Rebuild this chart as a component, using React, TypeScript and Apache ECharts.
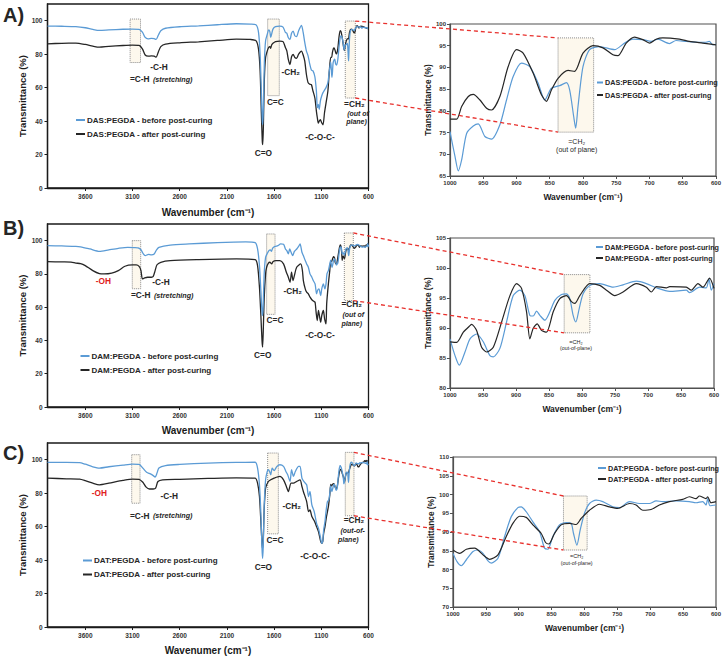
import React, { useEffect, useRef } from "react";
import * as echarts from "echarts";

// ---------------- DATA ----------------
// Wavenumber (cm-1) / transmittance (%) pairs, full range part (4000 -> ~1010)
const dasBeforeHigh: [number, number][] = [
  [4000, 96.8], [3850, 96.7], [3700, 96.5], [3600, 95.8], [3520, 94.8], [3450, 94.2], [3350, 94.5], [3200, 94.9],
  [3100, 95.0], [3030, 94.8], [2995, 93.2], [2965, 90.0], [2935, 89.2], [2900, 89.5], [2870, 89.3], [2850, 88.8],
  [2825, 91.5], [2800, 94.0], [2750, 95.5], [2600, 96.4], [2400, 96.9], [2200, 97.6], [2000, 98.2], [1850, 98.0],
  [1790, 97.5], [1765, 93], [1748, 80], [1735, 58], [1725, 40], [1720, 38], [1713, 50], [1703, 75], [1690, 88],
  [1672, 92], [1658, 94.5], [1645, 93.5], [1636, 90.0], [1626, 92], [1612, 95], [1585, 96.5], [1540, 96.8],
  [1505, 96.2], [1480, 93], [1465, 92.5], [1450, 90], [1432, 88.8], [1415, 92.5], [1398, 93.8], [1380, 91],
  [1362, 90.5], [1340, 94], [1310, 97.2], [1292, 93], [1275, 87], [1258, 82], [1240, 79], [1222, 74], [1205, 70.5],
  [1188, 70], [1168, 66.5], [1152, 58], [1142, 48], [1132, 50], [1122, 47], [1110, 52], [1096, 55], [1082, 57],
  [1066, 58.5], [1050, 60], [1030, 63], [1015, 70]
];
const dasAfterHigh: [number, number][] = [
  [4000, 86.2], [3850, 86.5], [3700, 86.6], [3600, 85.8], [3520, 84.8], [3450, 84.2], [3350, 84.7], [3200, 85.2],
  [3100, 85.4], [3030, 85.2], [2995, 83.2], [2965, 79.5], [2935, 78.8], [2900, 79.0], [2870, 78.8], [2850, 78.2],
  [2825, 81.5], [2800, 84.5], [2750, 86.0], [2600, 86.8], [2400, 87.4], [2200, 88.2], [2000, 89.0], [1850, 88.8],
  [1790, 88.0], [1765, 83], [1748, 70], [1735, 45], [1725, 28], [1720, 26], [1713, 38], [1703, 65], [1690, 78],
  [1672, 82], [1658, 84], [1645, 84.5], [1636, 83.5], [1626, 85.5], [1612, 86.5], [1585, 87.5], [1540, 87.8],
  [1505, 87.5], [1480, 84], [1465, 82], [1450, 77], [1432, 73.8], [1415, 78.5], [1398, 79.8], [1380, 78],
  [1362, 77.5], [1340, 80], [1310, 81.8], [1292, 79.5], [1275, 75.8], [1258, 68], [1240, 63], [1222, 62],
  [1205, 61.8], [1188, 58], [1168, 53.8], [1152, 46], [1142, 42], [1132, 38.8], [1122, 40], [1110, 40.8],
  [1096, 39], [1082, 37.8], [1066, 45], [1050, 50.8], [1030, 58], [1015, 70]
];
const dasBeforeZoom: [number, number][] = [
  [1000, 75.2], [992.5, 69.5], [987.5, 66.2], [982.5, 68.7], [975, 74.8], [965, 76.5], [957.5, 77], [947.5, 74.1],
  [937.5, 73.5], [925, 76.8], [915, 82.5], [905, 87.9], [892.5, 91], [880, 90.2], [867.5, 86.4], [857.5, 82.5],
  [847.5, 85.2], [835, 85.8], [825, 86.5], [820, 84.8], [814, 78.7], [811, 76], [807.5, 81], [800, 90.2],
  [790, 94.1], [775, 94.8], [752.5, 94.1], [737.5, 95.6], [725, 96.5], [710, 96.4], [697.5, 96], [687.5, 96.5],
  [670, 95.5], [660, 96.2], [645, 96], [627.5, 95.8], [615, 95.8], [610, 96], [605, 95.2], [600, 95.4]
];
const dasAfterZoom: [number, number][] = [
  [1000, 78.1], [990, 78.1], [982.5, 81], [972.5, 83.3], [965, 83.8], [955, 82.5], [945, 80.6], [937.5, 80.2],
  [925, 83.3], [912.5, 90.2], [900, 94.1], [890, 93.3], [875, 88.7], [862.5, 83.7], [855, 82.2], [847.5, 84.8],
  [837.5, 87.5], [822.5, 89.3], [812.5, 89.1], [800, 93.3], [785, 95], [770, 94.5], [755, 92.9], [747.5, 92.7],
  [735, 95.6], [722.5, 97], [710, 96.4], [700, 95.6], [690, 96.5], [680, 96.8], [655, 96.5], [640, 96],
  [620, 95.6], [600, 95.2]
];

const damBeforeHigh: [number, number][] = [
  [4000, 97], [3850, 96.8], [3700, 96.6], [3650, 96.3], [3550, 95], [3450, 93.6], [3350, 94.5], [3250, 95.4],
  [3150, 96], [3080, 95.8], [3040, 95.6], [3010, 94.5], [2985, 92], [2965, 91], [2930, 91.8], [2900, 91.5],
  [2870, 92], [2845, 94.5], [2820, 96], [2700, 97.3], [2500, 98], [2200, 98.8], [1900, 99.2], [1800, 98.8],
  [1775, 95], [1755, 85], [1740, 70], [1728, 57], [1722, 55], [1715, 62], [1705, 80], [1690, 90], [1675, 92],
  [1655, 94], [1640, 94.5], [1628, 93.5], [1615, 95.5], [1590, 96.5], [1560, 97], [1530, 98], [1500, 97.8],
  [1480, 95], [1465, 94], [1449, 92], [1435, 95], [1420, 93], [1403, 91], [1385, 93.5], [1360, 95], [1340, 96.5],
  [1325, 98], [1305, 93], [1290, 91], [1270, 88], [1255, 86], [1237, 84], [1220, 80], [1200, 78], [1185, 76],
  [1166, 74], [1150, 68], [1140, 70], [1125, 71], [1107, 67], [1095, 71], [1078, 74], [1062, 71], [1050, 74],
  [1040, 80], [1025, 82], [1010, 86]
];
const damAfterHigh: [number, number][] = [
  [4000, 87.4], [3850, 87.2], [3750, 87.1], [3700, 86.5], [3650, 86.2], [3600, 85], [3520, 82], [3450, 80.2],
  [3400, 80], [3320, 80.5], [3250, 82], [3180, 84.6], [3100, 85.4], [3060, 85.4], [3030, 84.5], [3010, 82],
  [2995, 77], [2975, 77.5], [2940, 78], [2900, 78], [2880, 78.5], [2860, 82], [2840, 85.5], [2800, 87],
  [2700, 88], [2400, 88.6], [2000, 89], [1800, 88.6], [1775, 85], [1755, 72], [1740, 55], [1728, 40], [1722, 36],
  [1715, 45], [1705, 65], [1690, 80], [1679, 84], [1660, 86.5], [1645, 87], [1626, 86], [1610, 87.5], [1580, 88],
  [1538, 88], [1500, 86], [1470, 81], [1449, 78], [1431, 75], [1415, 81], [1400, 76], [1385, 79], [1361, 84],
  [1318, 86], [1300, 82], [1290, 76], [1270, 71], [1255, 69], [1237, 68], [1219, 66], [1200, 64.5], [1180, 63.5],
  [1166, 63], [1155, 57], [1143, 52], [1130, 58], [1120, 55], [1107, 51], [1095, 55], [1078, 58], [1065, 53],
  [1050, 50], [1043, 62], [1025, 74], [1010, 82]
];
const damBeforeZoom: [number, number][] = [
  [1000, 88.2], [992.4, 85.4], [985.9, 83.8], [977.3, 86], [969.7, 88.2], [959.7, 89], [949.6, 87.7], [939.5, 85.4],
  [934.4, 85.2], [924.4, 86.6], [914.3, 91], [904.2, 95.4], [894.1, 96.3], [886.5, 95.4], [879, 92.1], [874, 92],
  [868.9, 92.8], [863.8, 92.1], [856.3, 91.3], [848.7, 92.7], [841.1, 94.6], [831.1, 95.6], [823.5, 95.7],
  [818.5, 94.9], [813.4, 92.1], [809.4, 91], [804.3, 93.2], [798.3, 95.7], [788.2, 97.1], [773.1, 97.4],
  [752.9, 96.8], [737.8, 97.2], [717.6, 97.8], [702.5, 97.4], [687.3, 96.7], [667.2, 96.1], [642, 96.3],
  [636.9, 95.9], [621.8, 96.8], [611.7, 96.7], [607.7, 98.2], [604.1, 96.3], [600, 97.4]
];
const damAfterZoom: [number, number][] = [
  [1000, 87.7], [989.9, 87.6], [979.8, 89.3], [969.7, 90.4], [967.2, 90.6], [959.7, 89.6], [952.1, 86.8],
  [944.5, 86], [934.4, 86.8], [921.8, 91], [909.2, 95.4], [899.1, 97.4], [891.6, 96.6], [884, 92.7], [879, 88.2],
  [874, 89.9], [867.9, 90.7], [861.3, 89.6], [853.8, 89.3], [843.6, 92.7], [833.6, 94.9], [823.5, 95.4],
  [816, 94.4], [810.9, 94.1], [803.3, 95.4], [788.2, 97.4], [773.1, 97.1], [763, 96.3], [750.4, 95.4],
  [737.8, 96], [717.6, 97.4], [702.5, 96.8], [694.9, 96], [687.3, 96.9], [672.2, 96.7], [667.2, 96.9],
  [642, 96.8], [634.4, 96.3], [624.3, 97.4], [616.7, 96.8], [609.1, 98], [606.7, 98.3], [600, 96.6]
];

const datBeforeHigh: [number, number][] = [
  [4000, 98.4], [3800, 98.4], [3660, 98.3], [3600, 97.3], [3520, 95.8], [3450, 95], [3350, 95.8], [3200, 96.8],
  [3100, 97.4], [3030, 97.2], [2990, 95], [2950, 92.5], [2910, 91.5], [2880, 90.5], [2860, 89.6], [2840, 92],
  [2820, 95], [2750, 96.5], [2600, 97.2], [2300, 98], [2000, 98.4], [1800, 98.5], [1775, 95], [1755, 85],
  [1740, 68], [1728, 47], [1722, 41], [1715, 48], [1705, 72], [1690, 88], [1672, 93], [1661, 94], [1648, 93],
  [1636, 91], [1620, 95], [1600, 93.5], [1570, 96], [1538, 97], [1500, 96], [1475, 93], [1456, 91], [1431, 87],
  [1415, 94], [1395, 90], [1375, 93], [1340, 96], [1325, 96], [1305, 89], [1285, 87], [1255, 85], [1235, 78],
  [1220, 81], [1200, 73], [1175, 69], [1150, 62], [1130, 59], [1110, 54], [1096, 50], [1085, 51], [1075, 58],
  [1061, 63], [1050, 69], [1035, 75], [1020, 76], [1010, 80]
];
const datAfterHigh: [number, number][] = [
  [4000, 89], [3800, 88.6], [3660, 88.4], [3600, 87.5], [3520, 86], [3450, 85], [3350, 86], [3200, 87.6],
  [3100, 88.4], [3030, 88.3], [2990, 86.5], [2955, 83.6], [2920, 82.5], [2880, 82.5], [2855, 83], [2830, 87],
  [2780, 88], [2600, 88.3], [2300, 88.8], [2000, 89.2], [1800, 89], [1775, 86], [1755, 78], [1740, 63],
  [1728, 50], [1722, 47], [1715, 52], [1705, 70], [1690, 83], [1661, 87], [1636, 88], [1600, 89], [1538, 90],
  [1500, 88], [1470, 84], [1449, 81], [1420, 86], [1395, 86], [1361, 87], [1325, 88], [1305, 84], [1290, 81],
  [1255, 75], [1235, 69], [1220, 70], [1200, 66], [1170, 63], [1150, 60], [1130, 57], [1110, 52], [1096, 50],
  [1085, 51], [1075, 56], [1061, 60], [1045, 66], [1025, 72], [1010, 79]
];
const datBeforeZoom: [number, number][] = [
  [1000, 84.3], [993.9, 82.1], [987.3, 81], [979.7, 82.6], [969.6, 84.8], [962, 85.2], [954.4, 84.3], [946.8, 82.3],
  [941.8, 81.7], [931.6, 83], [921.5, 88.8], [911.4, 94.1], [901.3, 96.5], [896.2, 96.7], [888.6, 95.4],
  [878.5, 92.7], [868.4, 90.1], [860.8, 85.7], [855.7, 85.4], [848.1, 88.8], [838, 91.9], [827.8, 92.5],
  [820.3, 92.3], [816.7, 89.6], [811.6, 86.5], [806.6, 90.5], [800, 95], [792.4, 97.6], [782.3, 98.5],
  [772.2, 98.1], [757, 96.7], [746.8, 96.5], [731.6, 98.1], [716.5, 97.6], [701.3, 97.6], [691.1, 98.3],
  [681, 98.1], [660.8, 98.3], [640.5, 98.1], [630.4, 97.8], [620.3, 98.1], [615.2, 97.2], [612.7, 98.9],
  [609.1, 97], [600, 97.2]
];
const datAfterZoom: [number, number][] = [
  [1000, 85.2], [989.9, 84.3], [979.7, 85.4], [967.1, 85.7], [954.4, 83.9], [944.3, 82.7], [931.6, 83.9],
  [919, 88.8], [908.9, 92.3], [898.7, 94.2], [888.6, 93.9], [878.5, 91.9], [865.8, 89.6], [859.2, 87.2],
  [854.2, 86.8], [845.6, 89.6], [835.4, 91.9], [822.8, 92.3], [812.7, 92], [805.1, 93.6], [792.4, 95.8],
  [777.2, 97.4], [762, 96.7], [749.4, 96.3], [731.6, 97.6], [721.5, 97.2], [711.4, 95.8], [698.7, 96],
  [686.1, 97.2], [670.9, 98.1], [650.6, 98.7], [640.5, 99.4], [630.4, 98.9], [625.3, 99.6], [615.2, 98.9],
  [612.7, 99.4], [607.6, 97.8], [600, 98.1]
];

// Highlighted bands [wnFrom, wnTo, top %, bottom %]
const dasLeftBoxes: number[][] = [[3125, 3015, 101, 75], [1668, 1545, 101, 55.2], [846, 740, 99.8, 53.8]];
const damLeftBoxes: number[][] = [[3102, 3013, 100, 71.1], [1679, 1590, 104, 55.7], [856, 761, 104.6, 64]];
const datLeftBoxes: number[][] = [[3108, 3020, 103, 74], [1668, 1555, 104, 55.7], [846, 754, 104.4, 66.5]];
const dasZoomBox: number[] = [837.5, 784, 96.8, 75.1];
const damZoomBox: number[] = [827, 788, 98.9, 89.2];
const datZoomBox: number[] = [832, 796, 99.6, 85.2];

const sampleNames = ["DAS:PEGDA", "DAM:PEGDA", "DAT:PEGDA"];
const zoomYRanges = [[65, 100], [80, 105], [70, 110]];
const leftXTitles = ["Wavenumber (cm\u207B\u00B9)", "Wavenumber (cm\u207B\u00B9)", "Wavenumer (cm\u207B\u00B9)"];

// ---------------- STYLE ----------------
const FONT = "'Liberation Sans', Arial, sans-serif";
const BLUE = "#5b9bd5";
const BLACK = "#262626";
const RED = "#e8312d";

const leftGrids = [
  { left: 47.5, top: 4, width: 321, height: 184 },
  { left: 47.5, top: 224, width: 321, height: 183 },
  { left: 47.5, top: 443, width: 321, height: 184 },
];
const rightGrids = [
  { left: 450, top: 24, width: 267, height: 152 },
  { left: 450, top: 238, width: 264, height: 150 },
  { left: 453, top: 457, width: 264, height: 150 },
];

const plain = (v: number) => String(v);

function buildOption() {
  const grid: any[] = [];
  const xAxis: any[] = [];
  const yAxis: any[] = [];
  const series: any[] = [];
  const legend: any[] = [];
  const highs = [[dasBeforeHigh, dasAfterHigh], [damBeforeHigh, damAfterHigh], [datBeforeHigh, datAfterHigh]];
  const zooms = [[dasBeforeZoom, dasAfterZoom], [damBeforeZoom, damAfterZoom], [datBeforeZoom, datAfterZoom]];
  const leftBoxes = [dasLeftBoxes, damLeftBoxes, datLeftBoxes];
  const zoomBoxes = [dasZoomBox, damZoomBox, datZoomBox];
  const boxStyle = { color: "rgba(251,242,222,0.55)", borderColor: "#8a8a8a", borderWidth: 1, borderType: "dotted" };

  const legendPos = [
    { l: [76, 116, 9, 6], r: [597, 79, 6, 5.5] },
    { l: [80.5, 352, 9, 6], r: [596, 243.5, 7, 4] },
    { l: [83, 556.5, 9, 6], r: [598, 464.5, 8, 4] },
  ];
  const leftNameGaps = [19, 18, 18.5];

  for (let p = 0; p < 3; p++) {
    const gl = p * 2;
    const gr = p * 2 + 1;
    grid.push({ ...leftGrids[p], show: true, borderColor: "#1a1a1a", borderWidth: 1.3, containLabel: false });
    grid.push({ ...rightGrids[p], show: true, borderColor: "#505050", borderWidth: 1.2, containLabel: false });

    xAxis.push({
      type: "value", gridIndex: gl, min: 600, max: 4000, interval: 500, inverse: true,
      axisLine: { onZero: false, lineStyle: { color: "#1a1a1a", width: 1.3 } },
      axisTick: { show: true, length: 3, lineStyle: { color: "#1a1a1a" } },
      axisLabel: { fontSize: 6.5, fontWeight: "bold", fontFamily: FONT, color: "#333", margin: 5, showMaxLabel: false, formatter: plain },
      splitLine: { show: false },
      name: leftXTitles[p], nameLocation: "middle", nameGap: leftNameGaps[p],
      nameTextStyle: { fontSize: 10, fontWeight: "bold", fontFamily: FONT, color: "#1a1a1a" },
    });
    xAxis.push({
      type: "value", gridIndex: gr, min: 600, max: 1000, interval: 50, inverse: true,
      axisLine: { onZero: false, lineStyle: { color: "#505050", width: 1.2 } },
      axisTick: { show: true, length: 3, lineStyle: { color: "#505050" } },
      axisLabel: { fontSize: 6, fontWeight: "bold", fontFamily: FONT, color: "#333", margin: 4, formatter: plain },
      splitLine: { show: false },
      name: "Wavenumber (cm\u207B\u00B9)", nameLocation: "middle", nameGap: 16,
      nameTextStyle: { fontSize: 8.5, fontWeight: "bold", fontFamily: FONT, color: "#1a1a1a" },
    });
    yAxis.push({
      type: "value", gridIndex: gl, min: 0, max: 110, interval: 20,
      axisLine: { onZero: false, lineStyle: { color: "#1a1a1a", width: 1.3 } },
      axisTick: { show: true, length: 3, lineStyle: { color: "#1a1a1a" } },
      axisLabel: { fontSize: 6.5, fontWeight: "bold", fontFamily: FONT, color: "#333", margin: 5, showMaxLabel: false, formatter: plain },
      splitLine: { show: false },
      name: "Transmittance (%)", nameLocation: "middle", nameGap: 15, nameRotate: 90,
      nameTextStyle: { fontSize: 9.5, fontWeight: "bold", fontFamily: FONT, color: "#1a1a1a" },
    });
    yAxis.push({
      type: "value", gridIndex: gr, min: zoomYRanges[p][0], max: zoomYRanges[p][1], interval: 5,
      axisLine: { onZero: false, lineStyle: { color: "#505050", width: 1.2 } },
      axisTick: { show: true, length: 3, lineStyle: { color: "#505050" } },
      axisLabel: { fontSize: 6, fontWeight: "bold", fontFamily: FONT, color: "#333", margin: 4, formatter: plain },
      splitLine: { show: false },
      name: "Transmittance (%)", nameLocation: "middle", nameGap: 16, nameRotate: 90,
      nameTextStyle: { fontSize: 8.3, fontWeight: "bold", fontFamily: FONT, color: "#1a1a1a" },
    });

    const nBefore = sampleNames[p] + " - before post-curing";
    const nAfter = sampleNames[p] + " - after post-curing";
    const [hb, ha] = highs[p];
    const [zb, za] = zooms[p];
    const common = { type: "line", showSymbol: false, symbol: "none", smooth: 0.25, animation: false };

    series.push({
      ...common, name: nBefore, xAxisIndex: gl, yAxisIndex: gl, color: BLUE,
      lineStyle: { color: BLUE, width: 1.3 }, data: hb.concat(zb), z: 3,
      markArea: {
        silent: true, itemStyle: boxStyle, label: { show: false },
        data: leftBoxes[p].map((b) => [{ xAxis: b[0], yAxis: b[2] }, { xAxis: b[1], yAxis: b[3] }]),
      },
    });
    series.push({
      ...common, name: nAfter, xAxisIndex: gl, yAxisIndex: gl, color: BLACK,
      lineStyle: { color: BLACK, width: 1.3 }, data: ha.concat(za), z: 2,
    });
    series.push({
      ...common, name: nBefore, xAxisIndex: gr, yAxisIndex: gr, color: BLUE,
      lineStyle: { color: BLUE, width: 1.2 }, data: zb, z: 2,
      markArea: {
        silent: true, itemStyle: boxStyle, label: { show: false },
        data: [[{ xAxis: zoomBoxes[p][0], yAxis: zoomBoxes[p][2] }, { xAxis: zoomBoxes[p][1], yAxis: zoomBoxes[p][3] }]],
      },
    });
    series.push({
      ...common, name: nAfter, xAxisIndex: gr, yAxisIndex: gr, color: BLACK,
      lineStyle: { color: BLACK, width: 1.2 }, data: za, z: 3,
    });

    const lp = legendPos[p];
    legend.push({
      left: lp.l[0], top: lp.l[1], orient: "vertical", padding: 0, icon: "rect",
      itemWidth: lp.l[2], itemHeight: 2, itemGap: lp.l[3], selectedMode: false,
      textStyle: { fontSize: 8, fontWeight: "bold", fontFamily: FONT, color: BLACK, padding: [0, 0, 0, -3] },
      data: [nBefore, nAfter],
    });
    legend.push({
      left: lp.r[0], top: lp.r[1], orient: "vertical", padding: 0, icon: "rect",
      itemWidth: lp.r[2], itemHeight: 2, itemGap: lp.r[3], selectedMode: false,
      textStyle: { fontSize: 7.2, fontWeight: "bold", fontFamily: FONT, color: BLACK, padding: [0, 0, 0, -3] },
      data: [nBefore, nAfter],
    });
  }

  return { animation: false, backgroundColor: "#fff", grid, xAxis, yAxis, series, legend };
}

function txt(x: number, y: number, text: string, opts: any = {}) {
  return {
    type: "text", x, y, silent: true, z: 10,
    style: {
      text, fontSize: opts.size || 8.3, fontWeight: opts.weight || "bold", fontStyle: opts.italic ? "italic" : "normal",
      fontFamily: FONT, fill: opts.color || BLACK, align: opts.align || "center", verticalAlign: "middle",
    },
  };
}

function stretch(x: number, y: number) {
  return {
    type: "text", x, y, silent: true, z: 10,
    style: {
      text: "{b|=C-H} {i|(stretching)}", align: "left", verticalAlign: "middle", fontFamily: FONT,
      rich: {
        b: { fontSize: 8.3, fontWeight: "bold", fontFamily: FONT, fill: BLACK },
        i: { fontSize: 7.2, fontWeight: "bold", fontStyle: "italic", fontFamily: FONT, fill: BLACK },
      },
    },
  };
}

function buildGraphic(chart: any) {
  const g: any[] = [];
  // panel letters
  g.push(txt(3, 15, "A)", { size: 20, align: "left" }));
  g.push(txt(3, 228, "B)", { size: 20, align: "left" }));
  g.push(txt(3, 452.5, "C)", { size: 20, align: "left" }));

  // panel A annotations
  g.push(txt(159, 67, "-C-H"));
  g.push(stretch(130, 79));
  g.push(txt(263.3, 152.7, "C=O"));
  g.push(txt(275.3, 101.7, "C=C"));
  g.push(txt(290.7, 71.7, "-CH\u2082"));
  g.push(txt(320, 136.7, "-C-O-C-"));
  g.push(txt(354.3, 104, "=CH\u2082"));
  g.push(txt(358, 113.3, "(out of", { size: 7, italic: true }));
  g.push(txt(356.5, 121.7, "plane)", { size: 7, italic: true }));

  // panel B annotations
  g.push(txt(103.3, 281, "-OH", { color: "#e0201b" }));
  g.push(txt(161, 281.7, "-C-H"));
  g.push(stretch(131, 295));
  g.push(txt(262.7, 355, "C=O"));
  g.push(txt(275, 320, "C=C"));
  g.push(txt(292.7, 291, "-CH\u2082"));
  g.push(txt(320, 335, "-C-O-C-"));
  g.push(txt(351.7, 304.3, "=CH\u2082"));
  g.push(txt(353.3, 314.3, "(out of", { size: 7, italic: true }));
  g.push(txt(351.7, 323.3, "plane)", { size: 7, italic: true }));

  // panel C annotations
  g.push(txt(99.3, 492.7, "-OH", { color: "#e0201b" }));
  g.push(txt(169.3, 495.7, "-C-H"));
  g.push(stretch(130, 515.5));
  g.push(txt(263.3, 567.3, "C=O"));
  g.push(txt(275, 540, "C=C"));
  g.push(txt(291.7, 506, "-CH\u2082"));
  g.push(txt(315, 556, "-C-O-C-"));
  g.push(txt(354, 520, "=CH\u2082"));
  g.push(txt(352.7, 530, "(out-of-", { size: 7, italic: true }));
  g.push(txt(348.3, 539, "plane)", { size: 7, italic: true }));

  // zoom panel annotations
  g.push(txt(576.7, 141.5, "=CH\u2082", { size: 7, weight: "normal" }));
  g.push(txt(576.7, 149.3, "(out of plane)", { size: 7, weight: "normal" }));
  g.push(txt(576, 342.3, "=CH\u2082", { size: 5.5, weight: "normal" }));
  g.push(txt(576, 348, "(out-of-plane)", { size: 5.3, weight: "normal" }));
  g.push(txt(576.7, 556, "=CH\u2082", { size: 5.5, weight: "normal" }));
  g.push(txt(576.7, 563.3, "(out-of-plane)", { size: 5.3, weight: "normal" }));

  // red dashed connectors: left CH2 box right corners -> zoom box left corners
  const leftBoxes = [dasLeftBoxes, damLeftBoxes, datLeftBoxes];
  const zoomBoxes = [dasZoomBox, damZoomBox, datZoomBox];
  for (let p = 0; p < 3; p++) {
    const lb = leftBoxes[p][2];
    const zb = zoomBoxes[p];
    const t1 = chart.convertToPixel({ gridIndex: p * 2 }, [lb[1], lb[2]]);
    const t2 = chart.convertToPixel({ gridIndex: p * 2 + 1 }, [zb[0], zb[2]]);
    const b1 = chart.convertToPixel({ gridIndex: p * 2 }, [lb[1], lb[3]]);
    const b2 = chart.convertToPixel({ gridIndex: p * 2 + 1 }, [zb[0], zb[3]]);
    for (const [a, b] of [[t1, t2], [b1, b2]]) {
      g.push({
        type: "line", silent: true, z: 9,
        shape: { x1: a[0], y1: a[1], x2: b[0], y2: b[1] },
        style: { stroke: RED, lineWidth: 1.3, lineDash: [4, 3] },
      });
    }
  }
  return g;
}

export default function App() {
  const ref = useRef<HTMLDivElement>(null);
  useEffect(() => {
    const chart = echarts.init(ref.current!, null, { renderer: "svg" });
    chart.setOption(buildOption() as any);
    chart.setOption({ graphic: buildGraphic(chart) } as any);
    return () => chart.dispose();
  }, []);
  return (
    <div
      ref={ref}
      style={{ position: "fixed", left: 0, top: 0, width: 724, height: 659, background: "#fff" }}
    />
  );
}
